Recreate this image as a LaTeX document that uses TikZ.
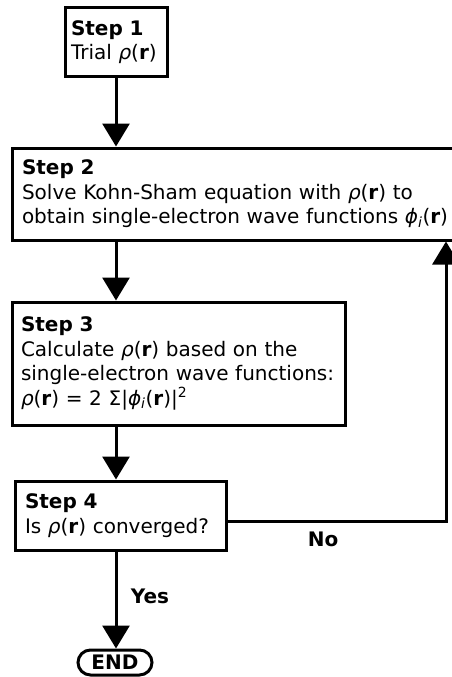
\documentclass[tikz,border=0pt]{standalone}
\usepackage{fontspec}
\setmainfont{DejaVu Sans}
\usetikzlibrary{arrows.meta,shapes.misc}
\begin{document}
\begin{tikzpicture}[x=1pt,y=-1pt,
  box/.style={draw, line width=3pt, rectangle, align=left, inner ysep=0pt,
    font=\fontsize{20}{24.5}\selectfont},
  arr/.style={line width=3pt, -{Triangle[width=27pt,length=23pt]}},
  lab/.style={font=\fontsize{20}{24}\selectfont\bfseries, inner sep=0pt}]
\useasboundingbox (0,0) rectangle (451,677);
\node[box, inner xsep=6pt, text width=90pt, minimum height=68pt] (b1) at (116,42)
  {\textbf{Step 1}\\ Trial \textit{ρ}(\textbf{r})};
\node[box, inner xsep=10pt, text width=430pt, minimum height=92pt] (b2) at (237,194)
  {\textbf{Step 2}\\ Solve Kohn-Sham equation with \textit{ρ}(\textbf{r}) to\\ obtain single-electron wave functions \textit{ϕ}\textsubscript{\textit{i}}(\textbf{r})};
\node[box, inner xsep=9pt, text width=315pt, minimum height=123pt] (b3) at (178.5,363.5)
  {\textbf{Step 3}\\ Calculate \textit{ρ}(\textbf{r}) based on the\\ single-electron wave functions:\\ \textit{ρ}(\textbf{r}) = 2 Σ|\textit{ϕ}\textsubscript{\textit{i}}(\textbf{r})|\textsuperscript{2}};
\node[box, inner xsep=10pt, text width=191pt, minimum height=69pt] (b4) at (120.5,515.5)
  {\textbf{Step 4}\\ Is \textit{ρ}(\textbf{r}) converged?};
\node[draw, line width=3pt, rounded rectangle, minimum width=74pt, minimum height=25pt,
  inner sep=0pt, font=\fontsize{20}{24}\selectfont\bfseries] (end) at (115,662.5) {END};
\coordinate (turn) at (446,521);
\draw[arr] (b1.south) -- (b1.south |- b2.north);
\draw[arr] (b2.south -| b1.south) -- (b3.north -| b1.south);
\draw[arr] (b3.south -| b1.south) -- (b4.north -| b1.south);
\draw[arr] (b4.south -| b1.south) -- (end.north -| b1.south);
\draw[arr] (b4.east |- turn) -- (turn) -- (turn |- b2.south);
\node[lab] (no) at (323,539) {No};
\node[lab] (yes) at (150,596) {Yes};
\end{tikzpicture}
\end{document}
